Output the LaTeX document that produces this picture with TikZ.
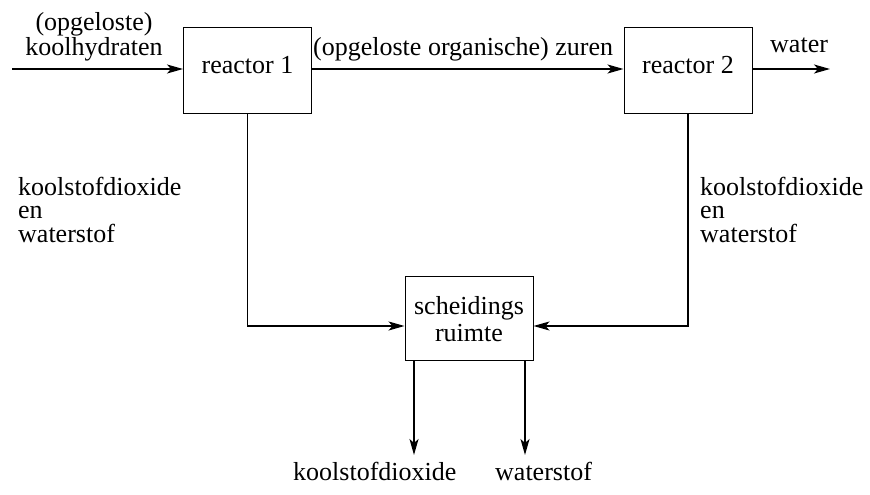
\documentclass[tikz,border=0pt]{standalone}
\usepackage{fontspec}
\newfontfamily\tms{Liberation Serif}
\usetikzlibrary{arrows.meta}
\begin{document}
\begin{tikzpicture}[x=1pt,y=-1pt,
  box/.style={draw, line width=1pt, minimum width=128pt, minimum height=85pt, inner sep=0pt},
  lbl/.style={font=\tms\fontsize{26}{30}\selectfont, inner sep=0pt},
  mlbl/.style={font=\tms\fontsize{26}{23.5}\selectfont, inner sep=0pt, align=left},
  arr/.style={line width=1.3pt, -{Stealth[length=16pt,width=9pt,inset=4pt]}}]
\useasboundingbox (0,0) rectangle (870,495);
% boxes
\node[box] (r1) at (247.5,70.5) {};
\node[box] (r2) at (688,70.5) {};
\node[box, minimum height=84pt] (sep) at (469,318) {};
% box labels
\node[lbl, anchor=base] (r1t) at (247.5,74) {reactor 1};
\node[lbl, anchor=base] (r2t) at (688,74) {reactor 2};
\node[lbl, anchor=base, align=center, font=\tms\fontsize{26}{27}\selectfont] (sept) at (469,341) {scheidings\\ruimte};
% helper coordinates
\coordinate (in) at (12,69);
\coordinate (wout) at (830,69);
\coordinate (jy) at (0,326);
\coordinate (o1) at (414,455);
\coordinate (o2) at (525,455);
% connectors
\draw[arr] (in) -- (in -| r1.west);
\draw[arr] (in -| r1.east) -- (in -| r2.west);
\draw[arr] (in -| r2.east) -- (wout);
\draw[arr] (r1.south) |- (sep.west |- jy);
\draw[arr] (r2.south) |- (sep.east |- jy);
\draw[arr] (o1 |- sep.south) -- (o1);
\draw[arr] (o2 |- sep.south) -- (o2);
% texts
\node[lbl, anchor=base, align=center, font=\tms\fontsize{26}{25}\selectfont] (t1) at (94,56) {(opgeloste)\\koolhydraten};
\node[lbl, anchor=base west] (t2) at (313,56) {(opgeloste organische) zuren};
\node[lbl, anchor=base west] (t3) at (770,53) {water};
\node[mlbl, anchor=base west] (lt) at (18,242) {koolstofdioxide\\en\\waterstof};
\node[mlbl, anchor=base west] (rt) at (700,242) {koolstofdioxide\\en\\waterstof};
\node[lbl, anchor=base west] (b1) at (293,480) {koolstofdioxide};
\node[lbl, anchor=base west] (b2) at (495,480) {waterstof};
\end{tikzpicture}
\end{document}
